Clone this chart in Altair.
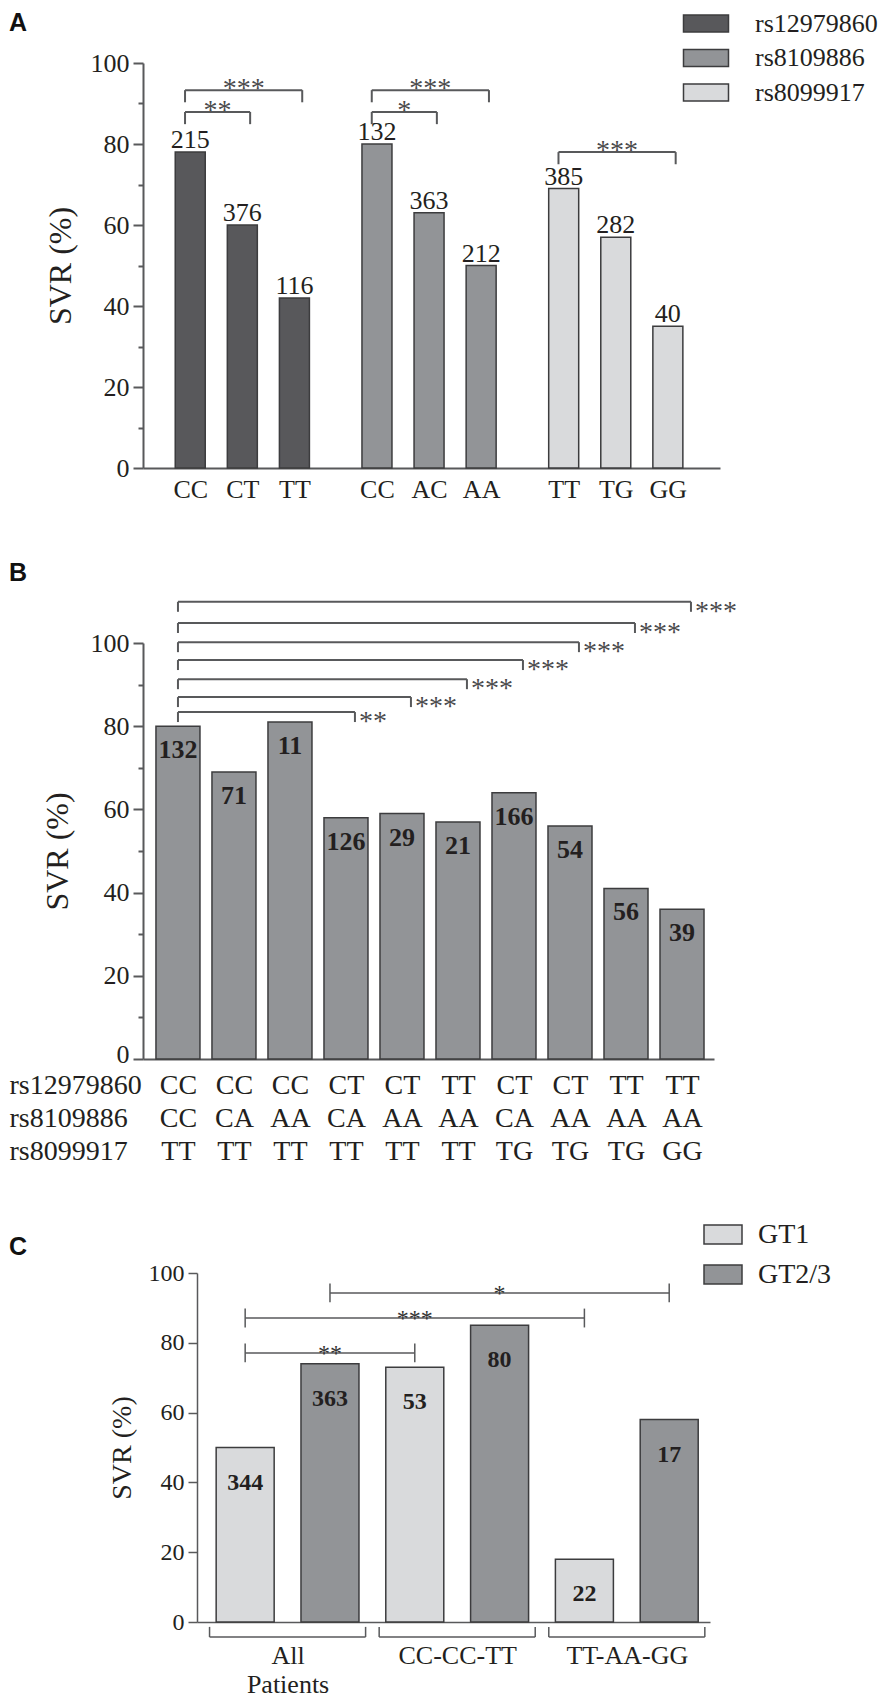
import json
import altair as alt
import pandas as pd

SERIF = "Liberation Serif"
SANS = "Liberation Sans"
TXT = "#231f20"
AX = "#58595b"
EDGE = "#3c3c3e"
DARK = "#58585b"
MID = "#929497"
LIGHT = "#d9dadc"
STAR = "#4a4a4c"

# ---------------- panel A data ----------------
a_snps = ["rs12979860", "rs8109886", "rs8099917"]
a_genotypes = [["CC", "CT", "TT"], ["CC", "AC", "AA"], ["TT", "TG", "GG"]]
a_svr = [[78, 60, 42], [80, 63, 50], [69, 57, 35]]
a_n = [[215, 376, 116], [132, 363, 212], [385, 282, 40]]
a_colors = [DARK, MID, LIGHT]
a_br_group = [0, 0, 1, 1, 2]
a_br_from = [0, 0, 0, 0, 0]
a_br_to = [2, 1, 2, 1, 2]
a_br_level = [93.3, 87.9, 93.3, 87.9, 78.0]
a_br_label = ["***", "**", "***", "*", "***"]

# ---------------- panel B data ----------------
b_rs12979860 = ["CC", "CC", "CC", "CT", "CT", "TT", "CT", "CT", "TT", "TT"]
b_rs8109886 = ["CC", "CA", "AA", "CA", "AA", "AA", "CA", "AA", "AA", "AA"]
b_rs8099917 = ["TT", "TT", "TT", "TT", "TT", "TT", "TG", "TG", "TG", "GG"]
b_svr = [80, 69, 81, 58, 59, 57, 64, 56, 41, 36]
b_n = [132, 71, 11, 126, 29, 21, 166, 54, 56, 39]
b_br_to = [9, 8, 7, 6, 5, 4, 3]
b_br_level = [109.9, 104.8, 100.2, 95.9, 91.3, 87.0, 83.4]
b_br_label = ["***", "***", "***", "***", "***", "***", "**"]

# ---------------- panel C data ----------------
c_groups = [["All", "Patients"], ["CC-CC-TT"], ["TT-AA-GG"]]
c_gt = ["GT1", "GT2/3"]
c_svr = [[50, 74], [73, 85], [18, 58]]
c_n = [[344, 363], [53, 80], [22, 17]]
c_colors = [LIGHT, MID]
c_br_from = [0, 0, 1]
c_br_to = [2, 4, 5]
c_br_level = [77.1, 87.1, 94.3]
c_br_label = ["**", "***", "*"]

HA, HB, HC = 405, 416, 349
GAP_AB, GAP_BC = 175, 214
LEFT, TOP = 135, 55


def yaxis(major_size, minor, label_size, title_size, title_x, height, width, zero_lift=0):
    vals = list(range(0, 101, 10 if minor else 20))
    kw = {}
    if zero_lift:
        kw["labelOffset"] = {"condition": {"test": "datum.value === 0", "value": -zero_lift},
                             "value": 0}
    return alt.Axis(
        values=vals,
        labelExpr="datum.value % 20 === 0 ? datum.label : ''",
        tickSize={"condition": {"test": "datum.value % 20 === 0", "value": major_size},
                  "value": major_size / 2},
        tickWidth=width, tickColor=AX, domainColor=AX, domainWidth=width,
        labelFont=SERIF, labelFontSize=label_size, labelColor=TXT, labelPadding=4,
        labelFlush=False, labelOverlap=False, grid=False,
        title="SVR (%)", titleFont=SERIF, titleFontSize=title_size,
        titleFontWeight="normal", titleColor=TXT, titleX=title_x, titleY=height / 2,
        titleAngle=270, titleAlign="center", titleBaseline="middle", **kw
    )


def letter(ch, dx, dy):
    return alt.Chart(pd.DataFrame({"t": [ch]})).mark_text(
        font=SANS, fontWeight="bold", fontSize=25, align="left", baseline="top", color="#111"
    ).encode(text="t:N", x=alt.value(dx), y=alt.value(dy))


def brackets(df, xs, ys, xa, ya, color, width, up, down):
    h = alt.Chart(df).mark_rule(color=color, strokeWidth=width).encode(
        x=alt.X("x1:Q", scale=xs, axis=xa), x2="x2:Q",
        y=alt.Y("level:Q", scale=ys, axis=ya))
    ends = pd.concat([
        pd.DataFrame({"x": df["x1"], "ya": df["level"] + up, "yb": df["level"] - down}),
        pd.DataFrame({"x": df["x2"], "ya": df["level"] + up, "yb": df["level"] - down}),
    ])
    v = alt.Chart(ends).mark_rule(color=color, strokeWidth=width).encode(
        x=alt.X("x:Q", scale=xs, axis=xa),
        y=alt.Y("ya:Q", scale=ys, axis=ya), y2="yb:Q")
    return [h, v]


# ================= Panel A =================
a_gap = 1.585

def a_pos(g, i):
    return round(g * (2 + a_gap) + i, 3)

rows = []
for g, snp in enumerate(a_snps):
    for i, gt in enumerate(a_genotypes[g]):
        rows.append({"snp": snp, "genotype": gt, "svr": a_svr[g][i], "n": a_n[g][i],
                     "pos": a_pos(g, i)})
dfA = pd.DataFrame(rows)
posA = dfA["pos"].tolist()
labA = dfA["genotype"].tolist()

xsA = alt.Scale(domain=[-0.811, 10.075], nice=False, zero=False)
ysA = alt.Scale(domain=[0, 100], nice=False)
xaA = alt.Axis(
    values=posA, labelExpr=f"{json.dumps(labA)}[indexof({json.dumps(posA)}, datum.value)]",
    ticks=False, domainColor=AX, domainWidth=2, labelFont=SERIF, labelFontSize=26,
    labelColor=TXT, labelPadding=8, labelFlush=False, labelOverlap=False, title=None, grid=False)
yaA = yaxis(10, True, 26, 32, -83, HA, 2)

brA = pd.DataFrame({
    "x1": [a_pos(g, f) - 0.1 for g, f in zip(a_br_group, a_br_from)],
    "x2": [a_pos(g, t) + 0.15 for g, t in zip(a_br_group, a_br_to)],
    "level": a_br_level, "label": a_br_label})
brA["mid"] = (brA["x1"] + brA["x2"]) / 2

barsA = alt.Chart(dfA).mark_bar(size=30, orient="vertical", stroke=EDGE, strokeWidth=1.5).encode(
    x=alt.X("pos:Q", scale=xsA, axis=xaA),
    y=alt.Y("svr:Q", scale=ysA, axis=yaA),
    fill=alt.Fill("snp:N", scale=alt.Scale(domain=a_snps, range=a_colors), legend=alt.Legend(
        orient="none", legendX=550, legendY=-52.5, direction="vertical", title=None,
        symbolType="M-2.647,-1H2.647V1H-2.647Z", symbolSize=289, symbolStrokeColor=EDGE,
        symbolStrokeWidth=1.5, symbolOpacity=1, labelFont=SERIF, labelFontSize=26,
        labelColor=TXT, labelOffset=36, rowPadding=8.5, padding=0, offset=0, labelLimit=300)),
)
countsA = alt.Chart(dfA).mark_text(font=SERIF, fontSize=26, color=TXT, baseline="alphabetic", dy=-4).encode(
    x=alt.X("pos:Q", scale=xsA, axis=xaA), y=alt.Y("svr:Q", scale=ysA, axis=yaA), text="n:Q")
starsA = alt.Chart(brA).mark_text(font=SERIF, fontSize=28, color=STAR, baseline="alphabetic", dy=7).encode(
    x=alt.X("mid:Q", scale=xsA, axis=xaA), y=alt.Y("level:Q", scale=ysA, axis=yaA), text="label:N")

panelA = alt.layer(
    barsA, countsA, *brackets(brA, xsA, ysA, xaA, yaA, AX, 2, 0, 3), starsA,
    letter("A", -LEFT + 1, -TOP + 3)
).properties(width=577, height=HA)

# ================= Panel B =================
dfB = pd.DataFrame({"pos": list(range(len(b_svr))), "svr": b_svr, "n": b_n})
linesB = [[a, b, c] for a, b, c in zip(b_rs12979860, b_rs8109886, b_rs8099917)]
xsB = alt.Scale(domain=[-0.535, 9.482], nice=False, zero=False)
ysB = alt.Scale(domain=[0, 100], nice=False)
xaB = alt.Axis(
    values=list(range(len(b_svr))), labelExpr=f"{json.dumps(linesB)}[datum.value]",
    ticks=False, domainColor=AX, domainWidth=2, labelFont=SERIF, labelFontSize=28,
    labelColor=TXT, labelPadding=12, labelBaseline="top", labelLineHeight=33,
    labelFlush=False, labelOverlap=False, grid=False,
    title=a_snps, titleX=-LEFT + 1, titleY=12, titleAngle=0, titleAlign="left",
    titleBaseline="top", titleLineHeight=33, titleFont=SERIF, titleFontSize=28,
    titleFontWeight="normal", titleColor=TXT)
yaB = yaxis(10, True, 26, 32, -86, HB, 2, zero_lift=5)

brB = pd.DataFrame({"x1": [0.0] * len(b_br_to), "x2": [t + 0.16 for t in b_br_to],
                    "level": b_br_level, "label": b_br_label})

barsB = alt.Chart(dfB).mark_bar(size=44, orient="vertical", fill=MID, stroke=EDGE, strokeWidth=1.5).encode(
    x=alt.X("pos:Q", scale=xsB, axis=xaB),
    y=alt.Y("svr:Q", scale=ysB, axis=yaB),
)
countsB = alt.Chart(dfB).mark_text(font=SERIF, fontSize=26, fontWeight="bold", color=TXT,
                                   baseline="alphabetic", dy=32).encode(
    x=alt.X("pos:Q", scale=xsB, axis=xaB), y=alt.Y("svr:Q", scale=ysB, axis=yaB), text="n:Q")
starsB = alt.Chart(brB).mark_text(font=SERIF, fontSize=28, color=STAR, baseline="alphabetic",
                                  align="left", dx=4, dy=18).encode(
    x=alt.X("x2:Q", scale=xsB, axis=xaB), y=alt.Y("level:Q", scale=ysB, axis=yaB), text="label:N")

panelB = alt.layer(
    barsB, countsB, *brackets(brB, xsB, ysB, xaB, yaB, AX, 2, 0, 2.4), starsB,
    letter("B", -LEFT + 1, -82)
).properties(width=571, height=HB)

# ================= Panel C =================
rows = []
for g, grp in enumerate(c_groups):
    for k, gt in enumerate(c_gt):
        rows.append({"group": " ".join(grp), "gt": gt, "svr": c_svr[g][k], "n": c_n[g][k],
                     "pos": 2 * g + k})
dfC = pd.DataFrame(rows)
xsC = alt.Scale(domain=[-0.509, 5.422], nice=False, zero=False)
ysC = alt.Scale(domain=[0, 100], nice=False)
grp_centers = [2 * g + 0.5 for g in range(len(c_groups))]
xaC = alt.Axis(
    values=grp_centers,
    labelExpr=f"{json.dumps(c_groups)}[indexof({json.dumps(grp_centers)}, datum.value)]",
    ticks=False, domainColor=AX, domainWidth=1.5, labelFont=SERIF, labelFontSize=26,
    labelColor=TXT, labelPadding=20, labelBaseline="top", labelLineHeight=29,
    labelFlush=False, labelOverlap=False, title=None, grid=False)
yaC = yaxis(9, False, 24, 28, -75, HC, 1.5)

brC = pd.DataFrame({"x1": [float(f) for f in c_br_from], "x2": [float(t) for t in c_br_to],
                    "level": c_br_level, "label": c_br_label})
brC["mid"] = (brC["x1"] + brC["x2"]) / 2
grpC = pd.DataFrame({"x1": [2 * g - 0.42 for g in range(len(c_groups))],
                     "x2": [2 * g + 1.42 for g in range(len(c_groups))],
                     "level": [-4.3] * len(c_groups)})

barsC = alt.Chart(dfC).mark_bar(size=58, orient="vertical", stroke=EDGE, strokeWidth=1.5).encode(
    x=alt.X("pos:Q", scale=xsC, axis=xaC),
    y=alt.Y("svr:Q", scale=ysC, axis=yaC),
    fill=alt.Fill("gt:N", scale=alt.Scale(domain=c_gt, range=c_colors), legend=alt.Legend(
        orient="none", legendX=566, legendY=-52.5, direction="vertical", title=None,
        symbolType="M-2,-1H2V1H-2Z", symbolSize=361, symbolStrokeColor=EDGE,
        symbolStrokeWidth=1.5, symbolOpacity=1, labelFont=SERIF, labelFontSize=28,
        labelColor=TXT, labelOffset=21, rowPadding=12, padding=0, offset=0, labelLimit=300)),
)
countsC = alt.Chart(dfC).mark_text(font=SERIF, fontSize=24, fontWeight="bold", color=TXT,
                                   baseline="alphabetic", dy=42).encode(
    x=alt.X("pos:Q", scale=xsC, axis=xaC), y=alt.Y("svr:Q", scale=ysC, axis=yaC), text="n:Q")
starsC = alt.Chart(brC).mark_text(font=SERIF, fontSize=24, color="#333", baseline="alphabetic", dy=8).encode(
    x=alt.X("mid:Q", scale=xsC, axis=xaC), y=alt.Y("level:Q", scale=ysC, axis=yaC), text="label:N")

panelC = alt.layer(
    barsC, countsC, *brackets(brC, xsC, ysC, xaC, yaC, AX, 1.5, 2.7, 2.7), starsC,
    *brackets(grpC, xsC, ysC, xaC, yaC, AX, 1.5, 2.9, 0), letter("C", -LEFT - 54 + 1, -38)
).properties(width=513, height=HC)


def blank(w, h):
    return alt.Chart(pd.DataFrame({"v": [0]})).mark_point(opacity=0).encode(
        x=alt.value(0), y=alt.value(0)).properties(width=w, height=h)


bottom = alt.hconcat(blank(54, HC), panelC, spacing=0, bounds="flush")
chart = alt.vconcat(
    panelA, blank(1, GAP_AB), panelB, blank(1, GAP_BC), bottom, spacing=0, bounds="flush"
).resolve_scale(
    x="independent", y="independent", fill="independent"
).resolve_legend(fill="independent").properties(
    autosize=alt.AutoSizeParams(type="none"),
    padding={"left": LEFT, "top": TOP, "right": 870 - LEFT, "bottom": 1692 - TOP},
).configure_view(stroke="transparent")

chart.save("out.html", embed_options={"renderer": "svg", "actions": False})
